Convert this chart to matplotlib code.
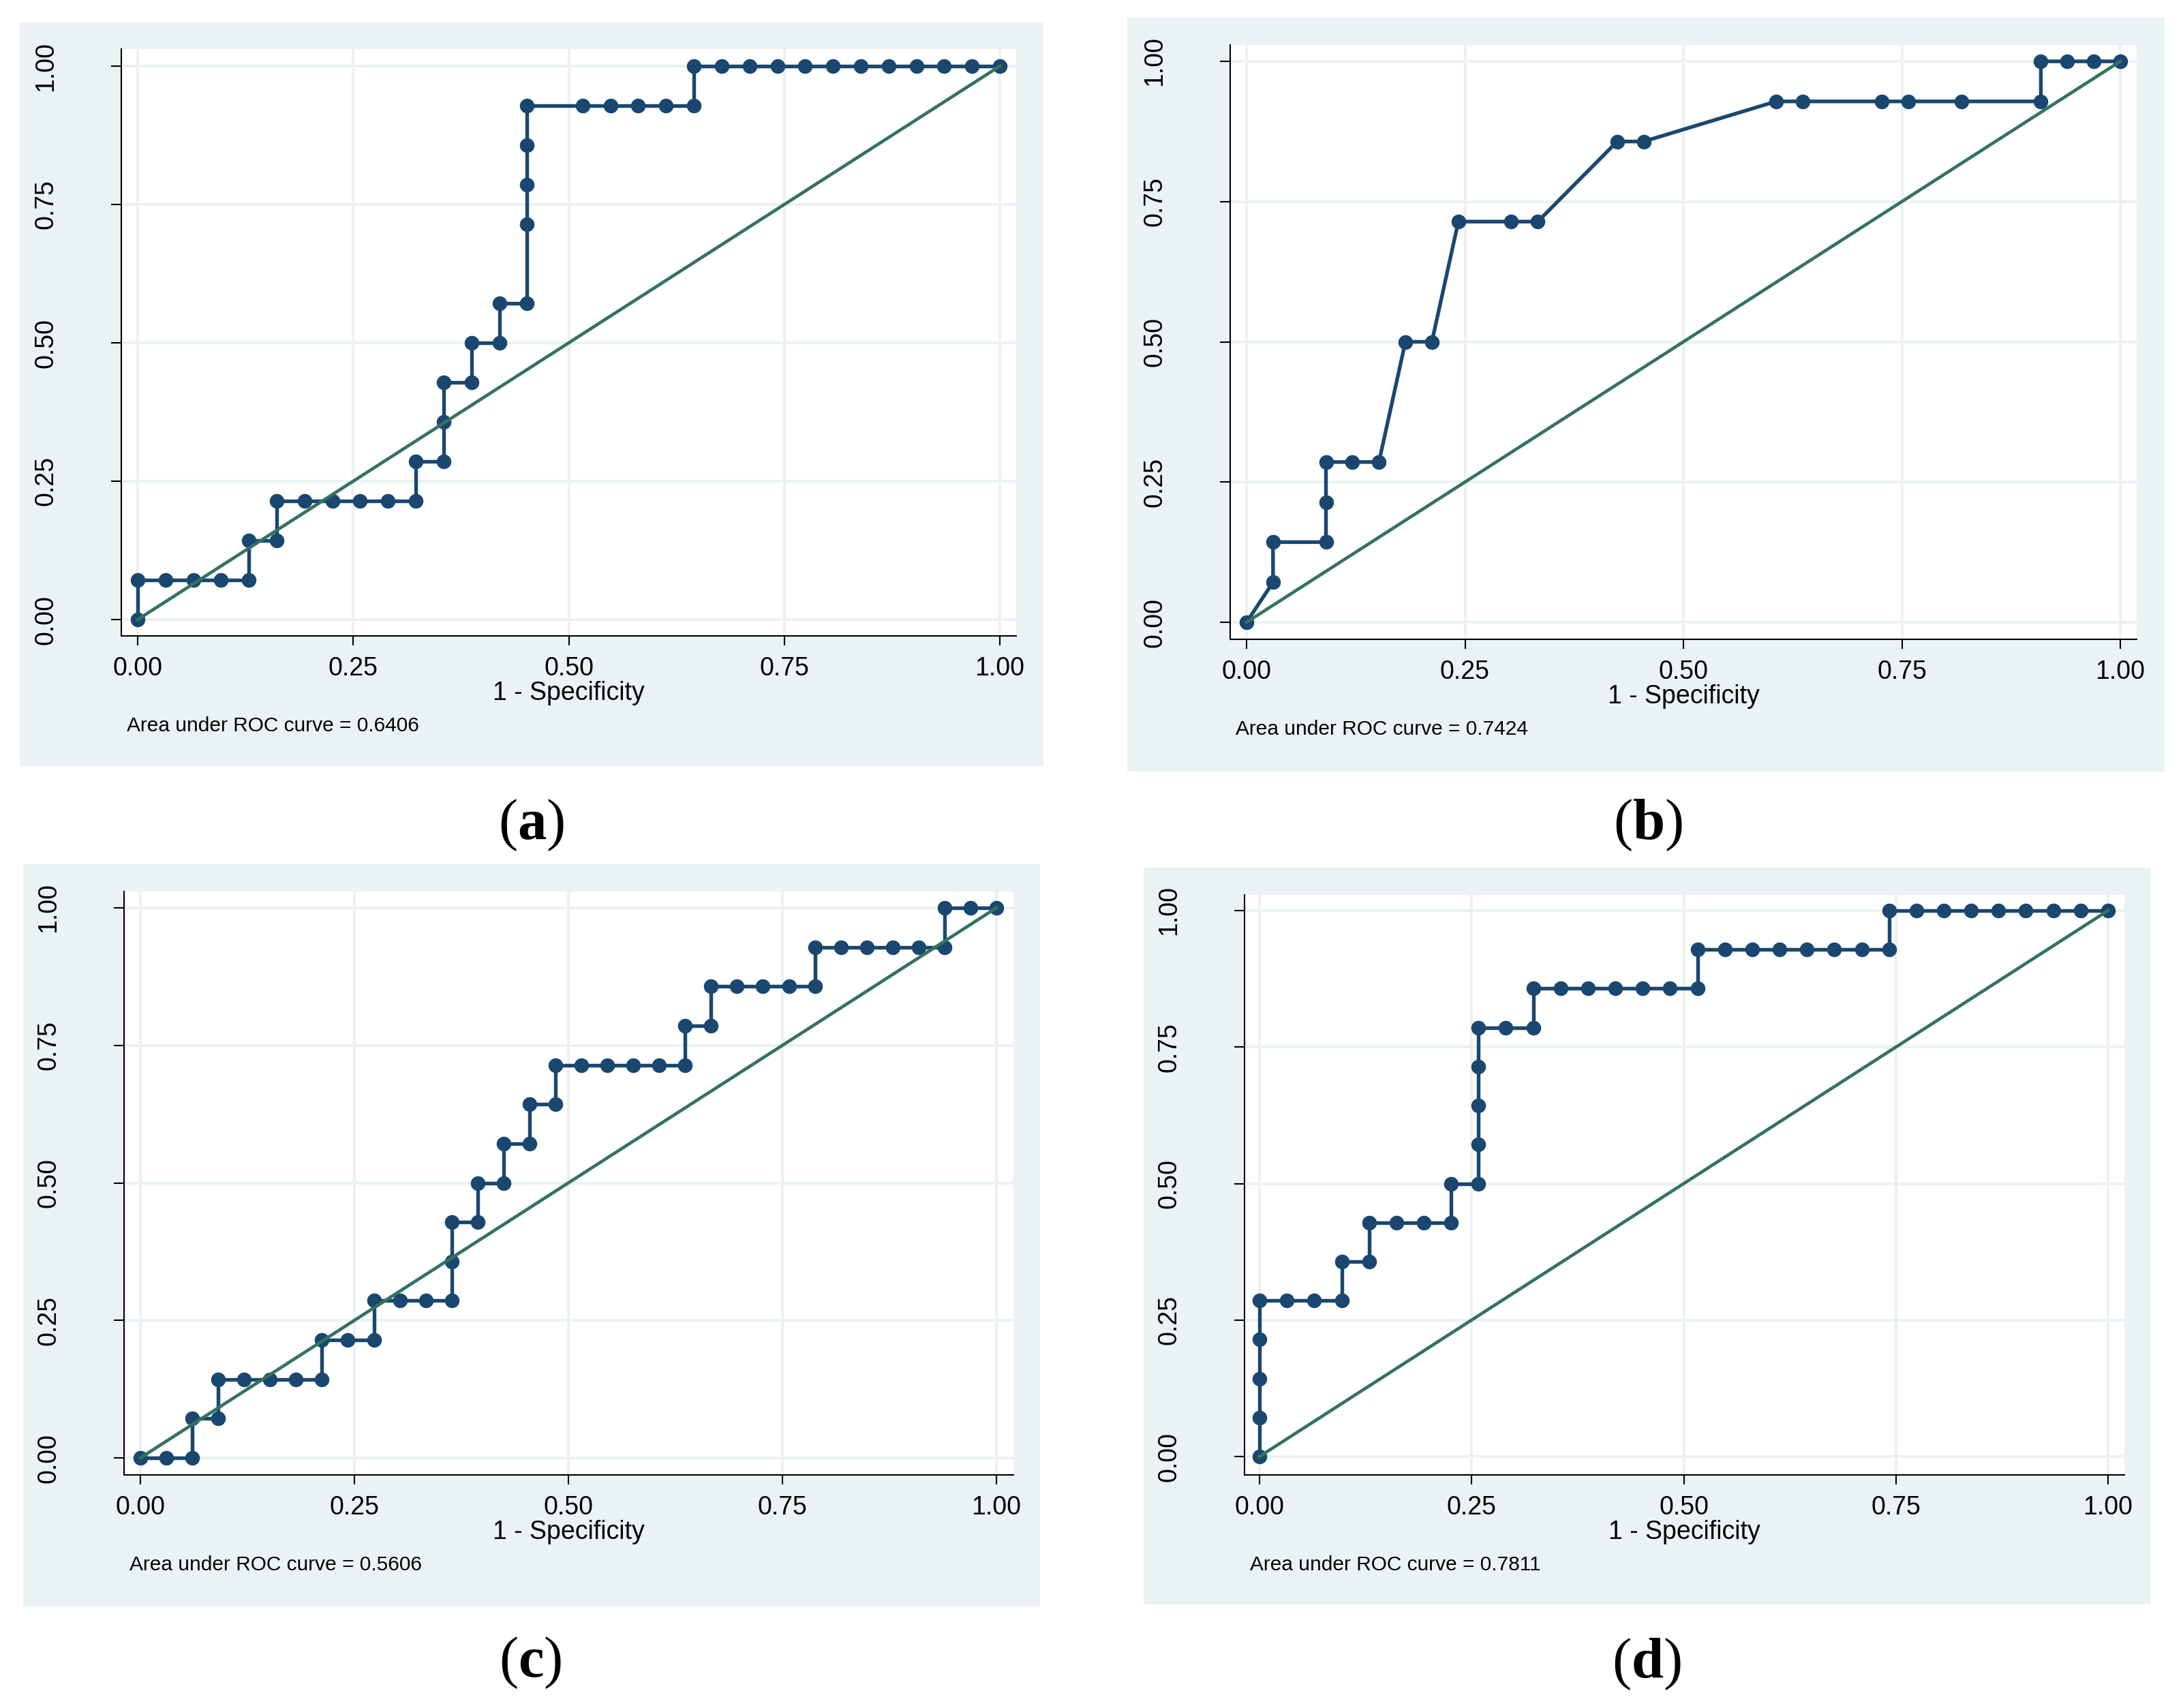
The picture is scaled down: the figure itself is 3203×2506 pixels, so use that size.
import matplotlib
matplotlib.use("Agg")
import matplotlib.pyplot as plt
from matplotlib.patches import Rectangle

# ---------------- data ----------------
panel_labels = ["a", "b", "c", "d"]
auc_values = [0.6406, 0.7424, 0.5606, 0.7811]
tick_values = [0.0, 0.25, 0.5, 0.75, 1.0]
tick_labels = ["0.00", "0.25", "0.50", "0.75", "1.00"]

a_fpr = [0, 0, .0323, .0645, .0968, .1290, .1290, .1613, .1613, .1935, .2258,
         .2581, .2903, .3226, .3226, .3548, .3548, .3548, .3871, .3871, .4194,
         .4194, .4516, .4516, .4516, .4516, .4516, .5161, .5484, .5806, .6129,
         .6452, .6452, .6774, .7097, .7419, .7742, .8065, .8387, .8710, .9032,
         .9355, .9677, 1.0]
a_tpr = [0, .0714, .0714, .0714, .0714, .0714, .1429, .1429, .2143, .2143, .2143,
         .2143, .2143, .2143, .2857, .2857, .3571, .4286, .4286, .5, .5,
         .5714, .5714, .7143, .7857, .8571, .9286, .9286, .9286, .9286, .9286,
         .9286, 1.0, 1.0, 1.0, 1.0, 1.0, 1.0, 1.0, 1.0, 1.0,
         1.0, 1.0, 1.0]

b_fpr = [0, .0303, .0303, .0909, .0909, .0909, .1212, .1515, .1818, .2121, .2424,
         .3030, .3333, .4242, .4545, .6061, .6364, .7273, .7576, .8182, .9091,
         .9091, .9394, .9697, 1.0]
b_tpr = [0, .0714, .1429, .1429, .2143, .2857, .2857, .2857, .5, .5, .7143,
         .7143, .7143, .8571, .8571, .9286, .9286, .9286, .9286, .9286, .9286,
         1.0, 1.0, 1.0, 1.0]

c_fpr = [0, .0303, .0606, .0606, .0909, .0909, .1212, .1515, .1818, .2121, .2121,
         .2424, .2727, .2727, .3030, .3333, .3636, .3636, .3636, .3939, .3939,
         .4242, .4242, .4545, .4545, .4848, .4848, .5152, .5455, .5758, .6061,
         .6364, .6364, .6667, .6667, .6970, .7273, .7576, .7879, .7879, .8182,
         .8485, .8788, .9091, .9394, .9394, .9697, 1.0]
c_tpr = [0, 0, 0, .0714, .0714, .1429, .1429, .1429, .1429, .1429, .2143,
         .2143, .2143, .2857, .2857, .2857, .2857, .3571, .4286, .4286, .5,
         .5, .5714, .5714, .6429, .6429, .7143, .7143, .7143, .7143, .7143,
         .7143, .7857, .7857, .8571, .8571, .8571, .8571, .8571, .9286, .9286,
         .9286, .9286, .9286, .9286, 1.0, 1.0, 1.0]

d_fpr = [0, 0, 0, 0, 0, .0323, .0645, .0968, .0968, .1290, .1290,
         .1613, .1935, .2258, .2258, .2581, .2581, .2581, .2581, .2581, .2903,
         .3226, .3226, .3548, .3871, .4194, .4516, .4839, .5161, .5161, .5484,
         .5806, .6129, .6452, .6774, .7097, .7419, .7419, .7742, .8065, .8387,
         .8710, .9032, .9355, .9677, 1.0]
d_tpr = [0, .0714, .1429, .2143, .2857, .2857, .2857, .2857, .3571, .3571, .4286,
         .4286, .4286, .4286, .5, .5, .5714, .6429, .7143, .7857, .7857,
         .7857, .8571, .8571, .8571, .8571, .8571, .8571, .8571, .9286, .9286,
         .9286, .9286, .9286, .9286, .9286, .9286, 1.0, 1.0, 1.0, 1.0,
         1.0, 1.0, 1.0, 1.0, 1.0]

fprs = [a_fpr, b_fpr, c_fpr, d_fpr]
tprs = [a_tpr, b_tpr, c_tpr, d_tpr]
ref_line = [0.0, 1.0]

# ---------------- layout (pixels in the 3203x2506 image) ----------------
W, H = 3203, 2506
layout = [
    dict(bg=(29, 33, 1531, 1124), ax=(178, 72, 1491, 933), x0=202, x1=1467, y0=909, y1=97, lab=(780, 1211)),
    dict(bg=(1654, 26, 3176, 1132), ax=(1805, 66, 3135, 938), x0=1829, x1=3111, y0=913, y1=90, lab=(2418, 1211)),
    dict(bg=(34, 1268, 1526, 2357), ax=(182, 1308, 1487, 2164), x0=206, x1=1462, y0=2139, y1=1332, lab=(778, 2440)),
    dict(bg=(1678, 1273, 3156, 2354), ax=(1826, 1313, 3117, 2164), x0=1848, x1=3093, y0=2137, y1=1336, lab=(2416, 2442)),
]

BG = "#eaf2f3"
NAVY = "#1a476f"
GREEN = "#35725f"

plt.rcParams["font.family"] = ["Liberation Sans", "DejaVu Sans"]
plt.rcParams["mathtext.fontset"] = "custom"
plt.rcParams["mathtext.rm"] = "Liberation Serif"
plt.rcParams["mathtext.bf"] = "Liberation Serif:bold"

fig = plt.figure(figsize=(W / 100, H / 100), dpi=100, facecolor="white")

for i, L in enumerate(layout):
    bl, bt, br, bb = L["bg"]
    fig.add_artist(Rectangle((bl / W, 1 - bb / H), (br - bl) / W, (bb - bt) / H,
                             transform=fig.transFigure, facecolor=BG,
                             edgecolor="none", zorder=0))
    al, at, ar, ab = L["ax"]
    ax = fig.add_axes([al / W, 1 - ab / H, (ar - al) / W, (ab - at) / H], zorder=1)
    ax.set_facecolor("white")
    sx = L["x1"] - L["x0"]
    sy = L["y0"] - L["y1"]
    ax.set_xlim((al - L["x0"]) / sx, (ar - L["x0"]) / sx)
    ax.set_ylim((L["y0"] - ab) / sy, (L["y0"] - at) / sy)

    ax.grid(True, color=BG, linewidth=2.9, zorder=0)
    ax.set_axisbelow(True)
    for s in ["top", "right"]:
        ax.spines[s].set_visible(False)
    for s in ["left", "bottom"]:
        ax.spines[s].set_linewidth(1.5)
        ax.spines[s].set_color("black")

    ax.plot(fprs[i], tprs[i], color=NAVY, linewidth=3.9, marker="o",
            markersize=15.5, markeredgewidth=0, zorder=3, clip_on=False)
    ax.plot(ref_line, ref_line, color=GREEN, linewidth=3.4, zorder=4, clip_on=False)

    ax.set_xticks(tick_values)
    ax.set_xticklabels(tick_labels)
    ax.set_yticks(tick_values)
    ax.set_yticklabels(tick_labels)
    ax.tick_params(axis="x", length=10.3, width=1.5, pad=11, labelsize=27, direction="out")
    ax.tick_params(axis="y", length=10.8, width=1.5, pad=56, labelsize=27, direction="out")
    for lab in ax.get_yticklabels():
        lab.set_rotation(90)
        lab.set_va("center")
    ax.set_xlabel("1 - Specificity", fontsize=27, labelpad=0)

    fig.text((al + 8) / W, 1 - (ab + 140) / H,
             "Area under ROC curve = %.4f" % auc_values[i],
             fontsize=21.5, ha="left", va="baseline")
    cx, cy = L["lab"]
    fig.text(cx / W, 1 - cy / H, r"($\mathbf{%s}$)" % panel_labels[i],
             fontsize=61, family="Liberation Serif", ha="center", va="center")

fig.savefig("out.png", dpi=100, facecolor="white")
